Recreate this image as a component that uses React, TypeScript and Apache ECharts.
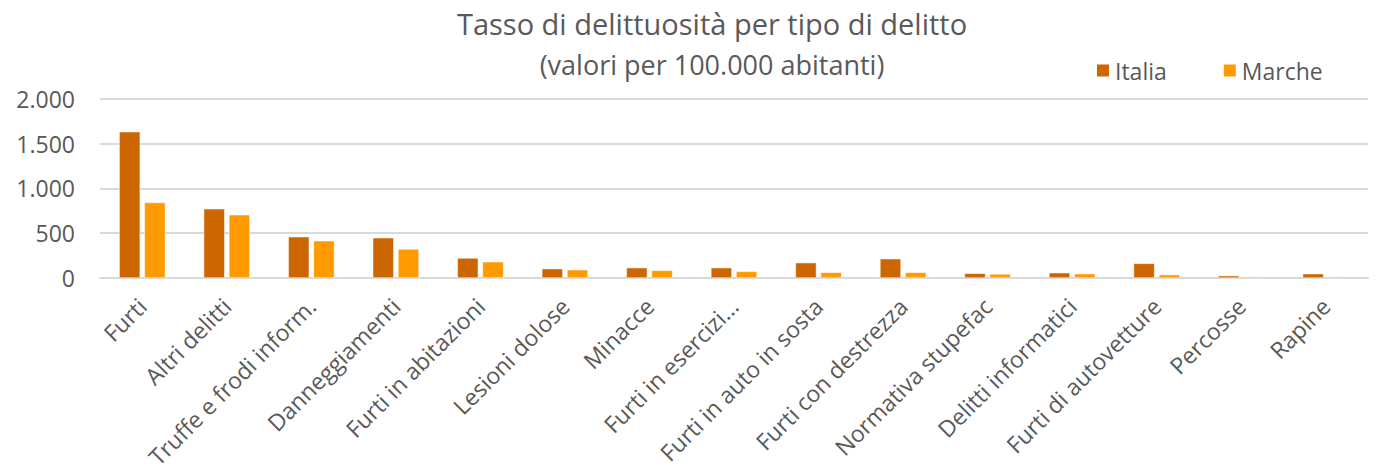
import React, { useEffect, useRef } from "react";
import * as echarts from "echarts";

const categories = [
  "Furti",
  "Altri delitti",
  "Truffe e frodi inform.",
  "Danneggiamenti",
  "Furti in abitazioni",
  "Lesioni dolose",
  "Minacce",
  "Furti in esercizi...",
  "Furti in auto in sosta",
  "Furti con destrezza",
  "Normativa stupefac",
  "Delitti informatici",
  "Furti di autovetture",
  "Percosse",
  "Rapine",
];
const italia = [1632, 772, 460, 449, 223, 104, 115, 115, 171, 215, 52, 59, 163, 26, 48];
const marche = [842, 705, 415, 323, 181, 92, 85, 74, 63, 63, 45, 48, 37, 15, 15];
const titleText = "Tasso di delittuosità per tipo di delitto";
const subtitleText = "(valori per 100.000 abitanti)";

const FONT = "'Open Sans', 'Noto Sans', sans-serif";
const TXT = "#595959";

export default function App() {
  const ref = useRef<HTMLDivElement>(null);
  useEffect(() => {
    document.body.style.margin = "0";
    const chart = echarts.init(ref.current!, null, { renderer: "svg" });
    chart.setOption({
      animation: false,
      backgroundColor: "#ffffff",
      textStyle: { fontFamily: FONT },
      title: [
        {
          text: titleText,
          left: 707,
          textAlign: "center",
          top: 4,
          textStyle: { fontFamily: FONT, fontSize: 29, fontWeight: "normal", color: TXT },
        },
        {
          text: subtitleText,
          left: 707,
          textAlign: "center",
          top: 46,
          textStyle: { fontFamily: FONT, fontSize: 27, fontWeight: "normal", color: TXT },
        },
      ],
      legend: {
        left: 1090,
        top: 54,
        itemWidth: 14,
        itemHeight: 14,
        itemGap: 55,
        icon: "rect",
        textStyle: { fontFamily: FONT, fontSize: 23, color: TXT },
        data: ["Italia", "Marche"],
      },
      grid: { left: 100, right: 10, top: 98.7, bottom: 195, containLabel: false },
      xAxis: {
        type: "category",
        data: categories,
        axisTick: { show: false },
        axisLine: { lineStyle: { color: "#D9D9D9", width: 2 } },
        axisLabel: {
          rotate: 45,
          interval: 0,
          margin: 24,
          fontFamily: FONT,
          fontSize: 23,
          color: TXT,
        },
      },
      yAxis: {
        type: "value",
        min: 0,
        max: 2000,
        interval: 500,
        axisLine: { show: false },
        axisTick: { show: false },
        splitLine: { lineStyle: { color: "#D9D9D9", width: 2 } },
        axisLabel: {
          fontFamily: FONT,
          fontSize: 23,
          color: TXT,
          margin: 25,
          formatter: (v: number) => v.toLocaleString("it-IT").replace(/\u00a0/g, "."),
        },
      },
      series: [
        {
          name: "Italia",
          type: "bar",
          data: italia,
          barWidth: 21,
          barGap: "20%",
          itemStyle: { color: "#CC6600", borderColor: "#fff", borderWidth: 0.5 },
        },
        {
          name: "Marche",
          type: "bar",
          data: marche,
          barWidth: 21,
          itemStyle: { color: "#FF9A00", borderColor: "#fff", borderWidth: 0.5 },
        },
      ],
    });
    return () => chart.dispose();
  }, []);
  return <div ref={ref} style={{ width: 1378, height: 473 }} />;
}
